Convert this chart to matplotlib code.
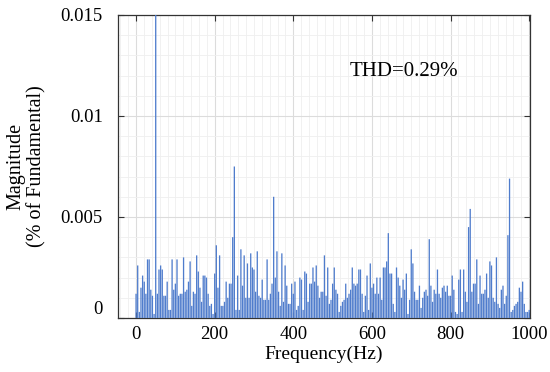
import numpy as np
import matplotlib
matplotlib.use("Agg")
import matplotlib.pyplot as plt
from matplotlib.ticker import MultipleLocator

# FFT bin spacing (Hz) and magnitudes (% of fundamental)
bin_hz = 50 / 12
mag_a = [0.0012, 0.0026, 0.0003, 0.0015, 0.0021, 0.0018, 0.0012, 0.0029, 0.0029, 0.0014,
         0.0011, 0.0002, 100.0,
         0.0012, 0.0024, 0.0026, 0.0024, 0.0011, 0.0011, 0.0018, 0.0004, 0.0004, 0.0029,
         0.0014, 0.0017, 0.0029, 0.0011, 0.0012, 0.0012, 0.0030, 0.0013]
mag_b = [0.0014, 0.0018, 0.0028, 0.0006, 0.0013, 0.0012, 0.0031, 0.0023, 0.0015, 0.0008,
         0.0021, 0.0021, 0.0020, 0.0012, 0.0006, 0.0007, 0.0002, 0.0022, 0.0036, 0.0015,
         0.0031, 0.0006, 0.0006, 0.0008, 0.0018, 0.0010, 0.0017, 0.0017, 0.0040, 0.0075,
         0.0004, 0.0021, 0.0004, 0.0034, 0.0016, 0.0031, 0.0010, 0.0027, 0.0010, 0.0032,
         0.0025, 0.0024]
mag_c = [0.0013, 0.0033, 0.0011, 0.0010, 0.0019, 0.0009, 0.0009, 0.0029, 0.0009, 0.0012,
         0.0017, 0.0060, 0.0020, 0.0033, 0.0013, 0.0006, 0.0032, 0.0008, 0.0026, 0.0016,
         0.0007, 0.0007, 0.0017, 0.0012, 0.0018, 0.0004, 0.0006, 0.0020, 0.0019, 0.0004,
         0.0023, 0.0022, 0.0008, 0.0017, 0.0017, 0.0025, 0.0018, 0.0026, 0.0016, 0.0010,
         0.0013]
mag_d = [0.0013, 0.0031, 0.0011, 0.0025, 0.0007, 0.0009, 0.0017, 0.0025, 0.0014, 0.0012,
         0.0003, 0.0006, 0.0008, 0.0009, 0.0017, 0.0010, 0.0012, 0.0014, 0.0025, 0.0017,
         0.0016, 0.0017, 0.0024, 0.0024, 0.0012, 0.0003, 0.0011, 0.0021, 0.0004, 0.0027,
         0.0015, 0.0017, 0.0012, 0.0020, 0.0012, 0.0020, 0.0009, 0.0025, 0.0025, 0.0028,
         0.0042, 0.0022]
mag_e = [0.0022, 0.0007, 0.0003, 0.0025, 0.0020, 0.0016, 0.0010, 0.0019, 0.0014, 0.0022,
         0.0002, 0.0009, 0.0034, 0.0027, 0.0013, 0.0009, 0.0009, 0.0016, 0.0005, 0.0010,
         0.0013, 0.0014, 0.0011, 0.0039, 0.0016, 0.0008, 0.0014, 0.0012, 0.0024, 0.0012,
         0.0010, 0.0015, 0.0016, 0.0013, 0.0016, 0.0011, 0.0011, 0.0021, 0.0014, 0.0003,
         0.0002]
mag_f = [0.0019, 0.0024, 0.0003, 0.0024, 0.0013, 0.0008, 0.0045, 0.0054, 0.0013, 0.0017,
         0.0017, 0.0029, 0.0007, 0.0021, 0.0012, 0.0012, 0.0014, 0.0022, 0.0010, 0.0028,
         0.0026, 0.0010, 0.0008, 0.0030, 0.0007, 0.0005, 0.0014, 0.0016, 0.0007, 0.0011,
         0.0041, 0.0069, 0.0003, 0.0004, 0.0006, 0.0007, 0.0008, 0.0015, 0.0013, 0.0018,
         0.0007, 0.0003, 0.0003, 0.0004]
magnitude = np.array(mag_a + mag_b + mag_c + mag_d + mag_e + mag_f)
freqs = np.arange(len(magnitude)) * bin_hz

xticks = [0, 200, 400, 600, 800, 1000]
yticks = [0, 0.005, 0.01, 0.015]
ytick_labels = ["0", "0.005", "0.01", "0.015"]
thd_text = "THD=0.29%"

plt.rcParams['font.family'] = ['Liberation Serif', 'DejaVu Serif']

fig = plt.figure(figsize=(5.5, 3.72), dpi=100)
ax = fig.add_axes([0.2145, 0.1452, 0.7491, 0.8145])

bars = ax.bar(freqs, magnitude, width=3.3, color='#4f7ccc', linewidth=0, zorder=3)
for b in bars:
    b.set_snap(False)

ax.set_xlim(-46, 1002)
ax.set_ylim(0, 0.015)
ax.set_xticks(xticks)
ax.set_xticklabels([str(t) for t in xticks])
ax.set_yticks(yticks)
ax.set_yticklabels(ytick_labels)
ax.xaxis.set_minor_locator(MultipleLocator(20))
ax.yaxis.set_minor_locator(MultipleLocator(0.001))

ax.grid(which='major', color='#dcdcdc', linewidth=0.8, zorder=0)
ax.grid(which='minor', color='#efefef', linewidth=0.6, linestyle='-', zorder=0)
ax.set_axisbelow(True)

ax.tick_params(which='major', direction='in', length=4, top=True, right=True,
               labelsize=13.5, color='#333333')
ax.tick_params(axis='y', which='major', pad=11)
ax.tick_params(axis='x', which='major', pad=6)
ax.tick_params(which='minor', length=0)
for s in ax.spines.values():
    s.set_color('#333333')
    s.set_linewidth(0.9)

ax.get_yticklabels()[0].set_va('bottom')

ax.set_xlabel("Frequency(Hz)", fontsize=14, labelpad=2)
ax.set_ylabel("Magnitude\n(% of Fundamental)", fontsize=14.5, labelpad=10, linespacing=1.15)

ax.text(0.563, 0.812, thd_text, transform=ax.transAxes, fontsize=15,
        ha='left', va='center')

fig.savefig("out.png", dpi=100)
